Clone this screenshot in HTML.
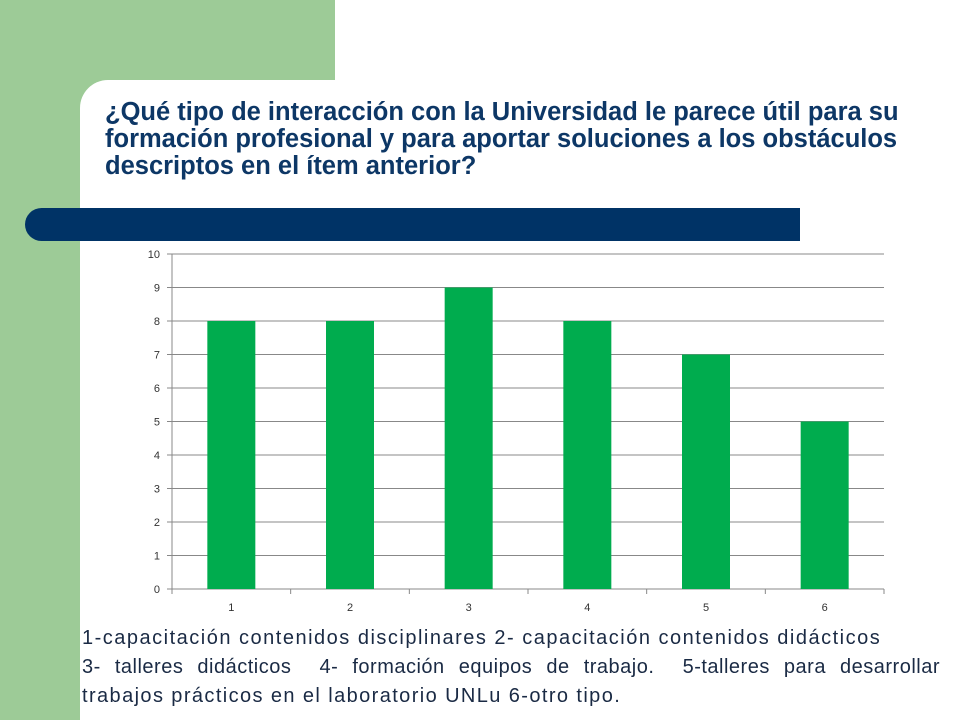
<!DOCTYPE html>
<html><head><meta charset="utf-8">
<style>
body{margin:0;width:960px;height:720px;overflow:hidden;background:#fff;font-family:"Liberation Sans",sans-serif;position:relative}
.abs{position:absolute}
.lg{white-space:nowrap;height:29px}
</style></head><body>
<div class="abs" style="left:0;top:0;width:80px;height:720px;background:#9dcb97"></div>
<div class="abs" style="left:0;top:0;width:335px;height:80px;background:#9dcb97"></div>
<div class="abs" style="left:80px;top:80px;width:40px;height:40px;background:#9dcb97"></div>
<div class="abs" style="left:80px;top:80px;width:300px;height:200px;background:#fff;border-top-left-radius:28px"></div>
<div class="abs" style="left:105px;top:99px;width:800px;font-size:25.5px;font-weight:bold;color:#0d3766;line-height:27px">¿Qué tipo de interacción con la Universidad le parece útil para su formación profesional y para aportar soluciones a los obstáculos descriptos en el ítem anterior?</div>
<div class="abs" style="left:25px;top:208px;width:775px;height:33px;background:#003366;border-radius:17px 0 0 17px"></div>
<svg class="abs" style="left:0;top:0" width="960" height="720">
<g id="g"></g>
</svg>
<div class="abs" style="left:82px;top:624px;width:858px;font-size:20px;color:#1a2a44;line-height:29px;letter-spacing:1.5px">
<div class="lg">1-capacitación contenidos disciplinares 2- capacitación contenidos didácticos</div>
<div class="lg" style="text-align:justify;text-align-last:justify;white-space:normal;letter-spacing:0.5px">3- talleres didácticos&nbsp; 4- formación equipos de trabajo.&nbsp; 5-talleres para desarrollar</div>
<div class="lg" style="letter-spacing:1.4px">trabajos prácticos en el laboratorio UNLu 6-otro tipo.</div>
</div>
<script>
const categories=["1","2","3","4","5","6"];
const values=[8,8,9,8,7,5];
const yTicks=[0,1,2,3,4,5,6,7,8,9,10];
const X0=172,X1=884,Y0=589,Y1=254,yMax=10;
const g=document.getElementById('g');const NS="http://www.w3.org/2000/svg";
function y(v){return Y0-(v/yMax)*(Y0-Y1);}
const cw=(X1-X0)/categories.length;
function x(i){return X0+cw*(i+0.5);}
function mk(t,a){const e=document.createElementNS(NS,t);for(const k in a)e.setAttribute(k,a[k]);g.appendChild(e);return e;}
yTicks.forEach(v=>{
const l=mk('line',{x1:X0-5,x2:X1,y1:y(v),y2:y(v),stroke:'#888','stroke-width':1});


const t=mk('text',{x:X0-12,y:y(v)+4,'text-anchor':'end','font-size':11,fill:'#333','font-family':'Liberation Sans'});
t.textContent=v;


});
mk('line',{x1:X0,x2:X0,y1:Y1,y2:Y0,stroke:'#888'});
for(let i=0;i<=categories.length;i++){mk('line',{x1:X0+cw*i,x2:X0+cw*i,y1:Y0,y2:Y0+5,stroke:'#888'});}
values.forEach((v,i)=>{
const b=mk('rect',{x:x(i)-24,y:y(v),width:48,height:Y0-y(v),fill:'#00ac4e'});


const t=mk('text',{x:x(i),y:Y0+22,'text-anchor':'middle','font-size':11,fill:'#333','font-family':'Liberation Sans'});
t.textContent=categories[i];


});
</script>
</body></html>
